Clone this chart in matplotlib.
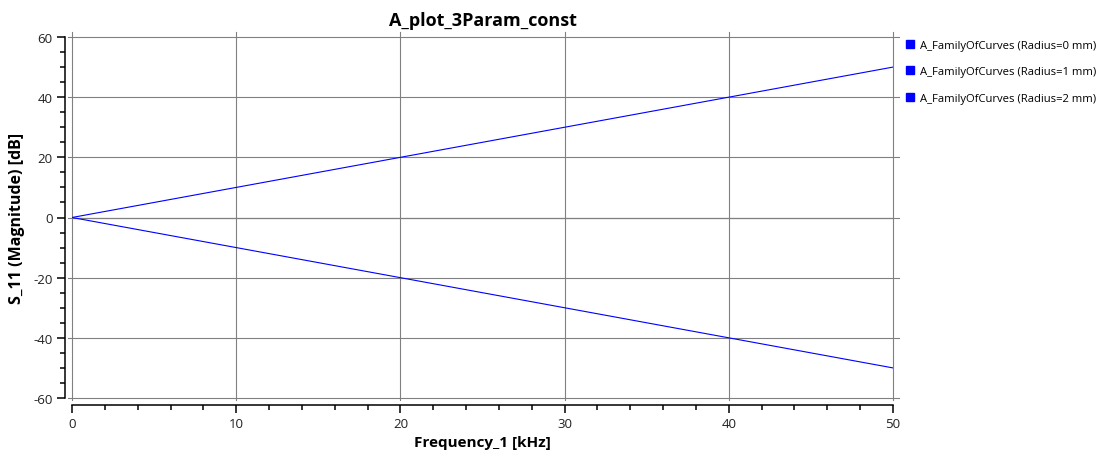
import matplotlib
matplotlib.use("Agg")
import matplotlib.pyplot as plt
from matplotlib.lines import Line2D
from matplotlib.ticker import MultipleLocator

# Data
frequency_khz = [0, 10, 20, 30, 40, 50]
radius0_db = [0, 0, 0, 0, 0, 0]
radius1_db = [0, 10, 20, 30, 40, 50]
radius2_db = [0, -10, -20, -30, -40, -50]
series_labels = ["A_FamilyOfCurves (Radius=0 mm)",
                 "A_FamilyOfCurves (Radius=1 mm)",
                 "A_FamilyOfCurves (Radius=2 mm)"]
x_ticks = [0, 10, 20, 30, 40, 50]
y_ticks = [-60, -40, -20, 0, 20, 40, 60]

plt.rcParams['font.family'] = ['Open Sans', 'DejaVu Sans']
plt.rcParams['axes.unicode_minus'] = False

W, H = 1103, 456
fig = plt.figure(figsize=(W / 100, H / 100), dpi=100)
left, right, top, bottom = 72, 893, 38, 399
ax = fig.add_axes([left / W, 1 - bottom / H, (right - left) / W, (bottom - top) / H])

ax.set_xlim(0, 50)
ax.set_ylim(-60, 60)

blue = "#0000ff"
ax.plot(frequency_khz, radius0_db, color=blue, lw=0.8, zorder=1)
ax.plot(frequency_khz, radius1_db, color=blue, lw=0.8, zorder=3)
ax.plot(frequency_khz, radius2_db, color=blue, lw=0.8, zorder=3)

grid_c = "#808080"
for xv in x_ticks:
    ax.axvline(xv, ymin=-0.005, ymax=1.014, color=grid_c, lw=0.8, clip_on=False, zorder=2)
for yv in y_ticks:
    ax.axhline(yv, xmin=-0.005, xmax=1.007, color=grid_c, lw=0.8, clip_on=False, zorder=2)

for s in ["top", "right"]:
    ax.spines[s].set_visible(False)
ax.spines["left"].set_position(("outward", 4.8))
ax.spines["bottom"].set_position(("outward", 5.0))
for s in ["left", "bottom"]:
    ax.spines[s].set_color("black")
    ax.spines[s].set_linewidth(1.1)

ax.set_xticks(x_ticks)
ax.set_yticks(y_ticks)
ax.xaxis.set_minor_locator(MultipleLocator(2))
ax.yaxis.set_minor_locator(MultipleLocator(5))
ax.tick_params(axis="both", which="major", length=6, width=1.1, color="black",
               labelsize=9.5, labelcolor="#222222", pad=3)
ax.tick_params(axis="both", which="minor", length=3.5, width=1.1, color="black")

ax.set_xlabel("Frequency_1 [kHz]", fontsize=11, fontweight="bold", labelpad=3)
ax.set_ylabel("S_11 (Magnitude) [dB]", fontsize=11.5, fontweight="bold", labelpad=6)
ax.set_title("A_plot_3Param_const", fontsize=13, fontweight="bold", pad=9)

handles = [Line2D([], [], ls="none", marker="s", markersize=6, color=blue) for _ in series_labels]
fig.legend(handles, series_labels, loc="upper left", bbox_to_anchor=(902 / W, 1 - 36 / H),
           frameon=False, fontsize=8.1, handlelength=0.6, handletextpad=0.6,
           labelspacing=1.38, borderaxespad=0)

fig.savefig("out.png", dpi=100)
